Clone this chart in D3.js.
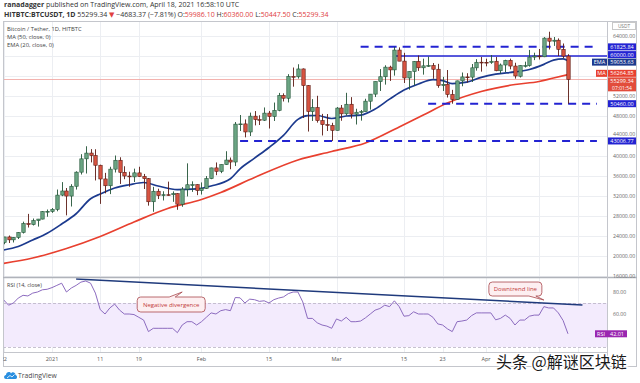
<!DOCTYPE html>
<html>
<head>
<meta charset="utf-8">
<script src="https://cdnjs.cloudflare.com/ajax/libs/d3/7.8.5/d3.min.js"></script>
<style>
  body { margin: 0; background: #fff; }
  svg { display: block; font-family: "Open Sans", "DejaVu Sans", sans-serif; }
</style>
</head>
<body>
<svg id="chart" width="640" height="383"></svg>
<script>
// BTC/USDT daily candles, HITBTC, 2020-12-22 .. 2021-04-18
const firstDay = '2020-12-22';
const lastDay = '2021-04-18';

const opens = [
  22719, 23810, 23232, 23729, 24712, 26493, 26281, 27079, 27385, 28875,
  28923, 29331, 32176, 33000, 31989, 33949, 36769, 39432, 40586, 40088, 38150, 35410, 34049, 37371, 39145, 36737,
  35994, 35824, 36622, 35901, 35468, 30851, 32950, 32078, 32259, 32251, 32465, 30362, 33368, 34246, 34262,
  33092, 33517, 35472, 37620, 36936, 38289, 39181, 38796, 46374, 46420, 44807, 47968, 47298, 47156, 48580,
  47911, 49134, 52118, 51552, 55906, 55841, 57412, 54087, 48891, 49676, 47073, 46277, 46104,
  45134, 49595, 48436, 50349, 48374, 48746, 48882, 50959, 52376, 54874, 55851, 57773, 57221, 61188, 58976,
  55605, 56900, 58913, 57641, 58030, 58100, 57351, 54083, 54342, 52303, 51293, 55025, 55817, 55777, 57635, 58760,
  58740, 58720, 58950, 57052, 58202, 59130, 57990, 55953, 58092, 58092, 59778, 59992, 59842, 63575, 62959,
  63158, 61334, 59986.10
];
const highs = [
  23837, 24100, 23794, 24789, 26867, 28422, 27500, 27410, 28996, 29300,
  29600, 33300, 34778, 33600, 34360, 36939, 40365, 41950, 41380, 41350, 38264, 36628, 37850, 40100, 39747, 37950,
  36852, 37469, 37850, 36415, 35600, 33826, 33456, 32944, 34875, 32921, 32557, 33783, 38531, 34933, 34342,
  34717, 35984, 37662, 38708, 38310, 40955, 39700, 46794, 48200, 47310, 48678, 48985, 48150, 49707, 49010,
  50689, 52618, 52530, 56368, 57700, 58352, 57508, 54183, 51374, 52041, 48424, 48395, 46640,
  49790, 50200, 52640, 51773, 49448, 49200, 51450, 52402, 54895, 57387, 58150, 58058, 61825.84, 61724, 60633,
  56938, 58981, 60100, 59468, 59880, 58589, 58430, 55830, 57200, 53230, 55073, 56700, 56559, 58400, 59368, 59800,
  59462, 60200, 59791, 58493, 59251, 59475, 58650, 58153, 58869, 61218, 60658, 61400, 63774, 64854, 63800,
  63520, 62506, 60360
];
const lows = [
  22353, 22600, 22703, 23400, 24500, 25700, 26101, 25880, 27320, 27850,
  28624, 28946, 31962, 28130, 29900, 33288, 36300, 36500, 38720, 35111, 30420, 32531, 32380, 36701, 34408, 35357,
  33850, 34800, 35844, 33400, 30071, 28850, 31390, 31106, 32053, 30837, 29241, 29842, 31915, 32825, 32171,
  32296, 33418, 35362, 36161, 36570, 38215, 37351, 37988, 45000, 43727, 43994, 46125, 46202, 47014, 45500,
  47003, 48948, 50901, 50710, 53863, 55477, 47600, 44892, 47003, 46674, 44106, 45000, 43006.77,
  45115, 47047, 48100, 47500, 46300, 47070, 48882, 49274, 51789, 53005, 54272, 55013, 56078, 58966, 54600,
  53271, 54123, 57023, 56270, 57820, 55450, 53650, 53000, 51700, 50460, 51225, 53950, 54691, 54800, 57071, 56873,
  57935, 58426, 56957, 56500, 56800, 57333, 55473, 55700, 57695, 57870, 59177, 59300, 59770, 61301, 62020,
  60000, 59580, 50447.50
];
const closes = [
  23810, 23232, 23729, 24712, 26493, 26281, 27079, 27385, 28875, 28923,
  29331, 32178, 33000, 31988, 33949, 36769, 39432, 40582, 40088, 38150, 35404, 34051, 37371, 39144, 36742, 35994,
  35828, 36631, 35891, 35468, 30850, 32945, 32078, 32259, 32254, 32467, 30366, 33364, 34252, 34262, 33092,
  33526, 35466, 37618, 36936, 38290, 39186, 38795, 46374, 46420, 44807, 47969, 47287, 47153, 48577, 47911,
  49133, 52119, 51553, 55906, 55841, 57408, 54087, 48891, 49676, 47073, 46276, 46106, 45135,
  49587, 48440, 50349, 48374, 48751, 48882, 50971, 52376, 54884, 55851, 57773, 57221, 61188, 58968, 55605,
  56900, 58912, 57648, 58030, 58102, 57351, 54083, 54340, 52303, 51293, 55025, 55817, 55777, 57635, 58746, 58740,
  58720, 58950, 57051, 58202, 59130, 57991, 56000, 58087, 58092, 59778, 59992, 59840, 63575, 62959, 63159,
  61334, 59986, 55299.34
];
// RSI (14, close), one value per candle
const rsiValues = [
  72.7, 68, 70, 74.5, 77, 76.4, 79, 80, 82, 82.5,
  84, 86, 88, 80, 83.6, 86, 89, 90, 88, 79, 64, 60, 65.5, 69, 63.6, 60,
  60, 59.5, 57, 54.5, 44, 47, 47, 47, 47, 47, 43, 50, 53, 53, 50,
  53, 57, 61, 60, 63, 64, 63, 75, 74.7, 70, 73.5, 73, 71.5, 72, 70,
  73, 74.5, 75.5, 78.5, 80, 80, 71, 56, 56, 52, 50, 49, 47,
  55.5, 53.6, 57, 53, 53, 53.6, 56.5, 60, 63.5, 65, 68, 66.7, 72, 66.7, 58,
  58.5, 62, 60, 60, 60, 57, 51, 50, 46.5, 44, 53, 53.6, 54.5, 58.5, 61, 61,
  61, 61, 54.7, 56, 59, 56, 50, 54.5, 54.5, 58, 59, 59, 66.7, 65.5, 65.5,
  61, 54, 42.01
];

// EMA (20) and MA (50)
const emaDates = ['2020-12-22', '2020-12-25', '2020-12-28', '2020-12-31', '2021-01-03', '2021-01-06', '2021-01-09',
  '2021-01-11', '2021-01-14', '2021-01-17', '2021-01-20', '2021-01-23', '2021-01-27', '2021-01-31', '2021-02-03',
  '2021-02-07', '2021-02-09', '2021-02-12', '2021-02-15', '2021-02-18', '2021-02-21', '2021-02-23', '2021-02-25',
  '2021-02-28', '2021-03-03', '2021-03-06', '2021-03-09', '2021-03-12', '2021-03-15', '2021-03-18', '2021-03-21',
  '2021-03-23', '2021-03-25', '2021-03-28', '2021-03-31', '2021-04-03', '2021-04-07', '2021-04-10', '2021-04-13',
  '2021-04-15', '2021-04-17', '2021-04-18'];
const emaValues = [21200, 21900, 23200, 24550, 26400, 28450, 31450,
  32400, 33600, 34250, 34700, 34000, 33270, 33420, 34000,
  35450, 37430, 39570, 41700, 44140, 47330, 48060, 48100,
  47500, 48000, 48190, 49400, 51370, 53190, 54390, 55270,
  55080, 54480, 54760, 55720, 56360, 56810, 57300, 58320,
  59180, 59440, 59053.63];
const maDates = ['2020-12-22', '2020-12-28', '2021-01-04', '2021-01-11', '2021-01-18', '2021-01-25', '2021-02-01',
  '2021-02-05', '2021-02-12', '2021-02-21', '2021-02-28', '2021-03-07', '2021-03-14', '2021-03-19', '2021-03-24',
  '2021-03-31', '2021-04-07', '2021-04-12', '2021-04-15', '2021-04-18'];
const maValues = [18540, 19600, 21500, 23900, 26800, 29500, 31300,
  32700, 35700, 39200, 40900, 42600, 45800, 48200, 50600,
  52900, 54300, 54900, 55600, 56264.85];

// drawn levels
const supportLevels = [61825.84, 50460, 43006.77];
const supportFrom = ['2021-03-06', '2021-03-20', '2021-02-09'];
const supportTo = ['2021-04-24', '2021-04-24', '2021-04-24'];
const resistanceLevel = 60000;
const resistanceFrom = '2021-03-13';
const resistanceTo = '2021-04-30';

// RSI downtrend line
const trendDates = ['2021-01-06', '2021-04-21'];
const trendRsi = [91.8, 68.2];

const priceTicks = [16000, 20000, 24000, 28000, 32000, 36000, 40000, 44000, 48000, 52000, 56000, 60000, 64000];
const rsiTicks = [80, 60];
// grid dates; the last two labels sit under the watermark and are not shown
const gridDates = ['2020-12-22', '2021-01-01', '2021-01-11', '2021-01-19', '2021-02-01', '2021-02-15',
  '2021-03-01', '2021-03-15', '2021-03-23', '2021-04-01', '2021-04-12', '2021-04-20'];
const dateTicks = ['2020-12-22', '2021-01-01', '2021-01-11', '2021-01-19', '2021-02-01', '2021-02-15',
  '2021-03-01', '2021-03-15', '2021-03-23', '2021-04-01'];
const dateLabels = ['22', '2021', '11', '19', 'Feb', '15', 'Mar', '15', '23', 'Apr'];

(function () {
  const svg = d3.select('#chart');
  const parse = s => new Date(s + 'T00:00:00Z');

  const plotLeft = 3, plotRight = 607;
  const priceTop = 21, priceBottom = 277;
  const rsiTop = 278, rsiBottom = 352;
  const chartBottom = 366;

  const upFill = '#6ba583', upBorder = '#225437';
  const downFill = '#d75442', downBorder = '#5b1a13';
  const emaColor = '#1c3a8e', maColor = '#e8402f';
  const levelBlue = '#2323d2';
  const rsiColor = '#8c6bbf';
  const gridColor = '#eceef2';

  const days = d3.utcDay.range(parse(firstDay), d3.utcDay.offset(parse(lastDay), 1));
  const candles = days.map((d, i) => ({
    date: d, open: opens[i], high: highs[i], low: lows[i], close: closes[i], rsi: rsiValues[i]
  }));

  const x = d3.scaleUtc()
    .domain([parse('2021-01-01'), parse('2021-04-01')])
    .range([52, 486]);
  const y = d3.scaleLinear().domain([16000, 64000]).range([276, 36]);
  const yr = d3.scaleLinear().domain([30, 70]).range([347, 303]);

  svg.append('rect').attr('width', 640).attr('height', 383).attr('fill', '#fff');

  const defs = svg.append('defs');
  defs.append('clipPath').attr('id', 'clipPrice')
    .append('rect').attr('x', plotLeft).attr('y', priceTop)
    .attr('width', plotRight - plotLeft).attr('height', priceBottom - priceTop);
  defs.append('clipPath').attr('id', 'clipRsi')
    .append('rect').attr('x', plotLeft).attr('y', rsiTop)
    .attr('width', plotRight - plotLeft).attr('height', rsiBottom - rsiTop);
  defs.append('clipPath').attr('id', 'clipAxis')
    .append('rect').attr('x', plotLeft).attr('y', rsiBottom)
    .attr('width', plotRight - plotLeft).attr('height', chartBottom - rsiBottom);

  /**
   * header
   */
  svg.append('text')
    .attr('x', 4).attr('y', 6.5)
    .style('font-size', '7px').style('fill', '#333')
    .call(t => {
      t.append('tspan').style('font-weight', 'bold').text('ranadagger');
      t.append('tspan').text(' published on TradingView.com, April 18, 2021 16:58:10 UTC');
    });

  const red = '#e0403f';
  const line2 = svg.append('text')
    .attr('x', 4).attr('y', 16.5)
    .style('font-size', '7px').style('fill', '#333');
  line2.append('tspan').style('font-weight', 'bold').text('HITBTC:BTCUSDT, 1D');
  line2.append('tspan').text(' 55299.34 ');
  line2.append('tspan').style('fill', red).text('▼');
  line2.append('tspan').text(' −4683.37 (−7.81%) O:');
  line2.append('tspan').style('fill', red).text('59986.10');
  line2.append('tspan').text(' H:');
  line2.append('tspan').style('fill', red).text('60360.00');
  line2.append('tspan').text(' L:');
  line2.append('tspan').style('fill', red).text('50447.50');
  line2.append('tspan').text(' C:');
  line2.append('tspan').style('fill', red).text('55299.34');

  /**
   * grid
   */
  const grid = svg.append('g');
  grid.selectAll('.vgrid')
    .data(gridDates)
    .enter().append('line')
    .attr('x1', d => Math.round(x(parse(d))) + 0.5)
    .attr('x2', d => Math.round(x(parse(d))) + 0.5)
    .attr('y1', priceTop).attr('y2', rsiBottom)
    .attr('stroke', gridColor);
  grid.selectAll('.hgrid')
    .data(priceTicks)
    .enter().append('line')
    .attr('x1', plotLeft).attr('x2', plotRight)
    .attr('y1', d => Math.round(y(d)) + 0.5)
    .attr('y2', d => Math.round(y(d)) + 0.5)
    .attr('stroke', gridColor);

  // RSI band 70 / 30
  const rsiG = svg.append('g').attr('clip-path', 'url(#clipRsi)');
  rsiG.append('rect')
    .attr('x', plotLeft).attr('width', plotRight - plotLeft)
    .attr('y', yr(70)).attr('height', yr(30) - yr(70))
    .attr('fill', '#f3ebfd');
  rsiG.selectAll('.band')
    .data([70, 30])
    .enter().append('line')
    .attr('x1', plotLeft).attr('x2', plotRight)
    .attr('y1', d => Math.round(yr(d)) + 0.5).attr('y2', d => Math.round(yr(d)) + 0.5)
    .attr('stroke', '#b9b2c4').attr('stroke-dasharray', '3,2').attr('stroke-width', 0.8);

  /**
   * price panel
   */
  const priceG = svg.append('g').attr('clip-path', 'url(#clipPrice)');

  // last price line
  priceG.append('line')
    .attr('x1', plotLeft).attr('x2', plotRight)
    .attr('y1', y(closes[closes.length - 1])).attr('y2', y(closes[closes.length - 1]))
    .attr('stroke', '#f0a09a').attr('stroke-width', 0.8);

  const lineGen = d3.line()
    .x(d => x(parse(d[0])))
    .y(d => y(d[1]))
    .curve(d3.curveMonotoneX);

  priceG.append('path')
    .datum(d3.zip(maDates, maValues))
    .attr('d', lineGen)
    .attr('fill', 'none').attr('stroke', maColor).attr('stroke-width', 1.7);
  priceG.append('path')
    .datum(d3.zip(emaDates, emaValues))
    .attr('d', lineGen)
    .attr('fill', 'none').attr('stroke', emaColor).attr('stroke-width', 1.7);

  // support / resistance lines
  priceG.selectAll('.support')
    .data(supportLevels)
    .enter().append('line')
    .attr('x1', (d, i) => x(parse(supportFrom[i])))
    .attr('x2', (d, i) => x(parse(supportTo[i])))
    .attr('y1', d => y(d)).attr('y2', d => y(d))
    .attr('stroke', levelBlue).attr('stroke-width', 2)
    .attr('stroke-dasharray', '8,6');
  priceG.append('line')
    .attr('x1', x(parse(resistanceFrom))).attr('x2', x(parse(resistanceTo)))
    .attr('y1', y(resistanceLevel)).attr('y2', y(resistanceLevel))
    .attr('stroke', levelBlue).attr('stroke-width', 1.5);

  // candles
  const candle = priceG.selectAll('.candle')
    .data(candles)
    .enter().append('g')
    .attr('class', 'candle');
  const cx = d => Math.round(x(d.date));
  candle.append('line')
    .attr('x1', d => cx(d) + 0.5).attr('x2', d => cx(d) + 0.5)
    .attr('y1', d => y(d.high)).attr('y2', d => y(d.low))
    .attr('stroke', d => d.close >= d.open ? upBorder : downBorder)
    .attr('stroke-width', 0.9);
  candle.append('rect')
    .attr('x', d => cx(d) - 1.2)
    .attr('width', 3.4)
    .attr('y', d => y(Math.max(d.open, d.close)))
    .attr('height', d => Math.max(0.8, Math.abs(y(d.open) - y(d.close))))
    .attr('fill', d => d.close >= d.open ? upFill : downFill)
    .attr('stroke', d => d.close >= d.open ? upBorder : downBorder)
    .attr('stroke-width', 0.6);

  // legend
  const legend = svg.append('g').style('font-size', '5.8px').style('fill', '#444');
  ['Bitcoin / Tether, 1D, HITBTC', 'MA (50, close, 0)', 'EMA (20, close, 0)'].forEach((s, i) => {
    legend.append('text').attr('x', 7).attr('y', 30.5 + i * 8).text(s);
  });

  /**
   * RSI panel
   */
  rsiG.append('path')
    .datum(candles)
    .attr('d', d3.line().x(d => x(d.date)).y(d => yr(d.rsi)))
    .attr('fill', 'none').attr('stroke', rsiColor).attr('stroke-width', 1);

  svg.append('g').attr('clip-path', 'url(#clipRsi)')
    .append('line')
    .attr('x1', x(parse(trendDates[0]))).attr('y1', yr(trendRsi[0]))
    .attr('x2', x(parse(trendDates[1]))).attr('y2', yr(trendRsi[1]))
    .attr('stroke', '#1f3a7c').attr('stroke-width', 1.5);

  svg.append('text')
    .attr('x', 7).attr('y', 287)
    .style('font-size', '5.5px').style('fill', '#444')
    .text('RSI (14, close)');

  // callouts
  function bubble(bx, by, bw, bh, r, side, b1, b2, tx, ty) {
    const p = d3.path();
    p.moveTo(bx + r, by);
    if (side === 'top') { p.lineTo(b1, by); p.lineTo(tx, ty); p.lineTo(b2, by); }
    p.lineTo(bx + bw - r, by);
    p.arcTo(bx + bw, by, bx + bw, by + r, r);
    p.lineTo(bx + bw, by + bh - r);
    p.arcTo(bx + bw, by + bh, bx + bw - r, by + bh, r);
    if (side === 'bottom') { p.lineTo(b2, by + bh); p.lineTo(tx, ty); p.lineTo(b1, by + bh); }
    p.lineTo(bx + r, by + bh);
    p.arcTo(bx, by + bh, bx, by + bh - r, r);
    p.lineTo(bx, by + r);
    p.arcTo(bx, by, bx + r, by, r);
    p.closePath();
    return p.toString();
  }
  const calloutText = ['Negative divergence', 'Downtrend line'];
  const calloutTip = [['2021-01-28', 80], ['2021-04-13', 72.7]];
  const callouts = calloutText.map((t, i) => {
    const tx = x(parse(calloutTip[i][0])), ty = yr(calloutTip[i][1]);
    return i === 0
      ? { t, tx, ty, bx: tx - 45, by: ty + 5, bw: 68, bh: 15, side: 'top', b1: tx - 13, b2: tx - 7 }
      : { t, tx, ty, bx: tx - 55, by: ty - 18, bw: 53, bh: 14, side: 'bottom', b1: tx - 15, b2: tx - 8 };
  });
  const cg = svg.selectAll('.callout').data(callouts).enter().append('g');
  cg.append('path')
    .attr('d', d => bubble(d.bx, d.by, d.bw, d.bh, 3.5, d.side, d.b1, d.b2, d.tx, d.ty))
    .attr('fill', '#fdeff1').attr('stroke', '#a8484c').attr('stroke-width', 0.8);
  cg.append('text')
    .attr('x', d => d.bx + d.bw / 2).attr('y', d => d.by + d.bh / 2 + 2)
    .attr('text-anchor', 'middle')
    .style('font-size', '6px').style('fill', '#c23b3b')
    .text(d => d.t);

  /**
   * frame and axes
   */
  const frame = svg.append('g').attr('fill', 'none').attr('stroke', '#c4c6cc');
  frame.append('rect').attr('x', 3.5).attr('y', priceTop + 0.5)
    .attr('width', 633).attr('height', chartBottom - priceTop);
  frame.append('line').attr('x1', plotLeft).attr('x2', 637).attr('y1', priceBottom + 0.5).attr('y2', priceBottom + 0.5)
    .attr('stroke', '#b0b3ba').attr('stroke-width', 1.5);
  frame.append('line').attr('x1', plotRight + 0.5).attr('x2', plotRight + 0.5).attr('y1', priceTop).attr('y2', chartBottom);
  frame.append('line').attr('x1', plotLeft).attr('x2', plotRight).attr('y1', rsiBottom + 0.5).attr('y2', rsiBottom + 0.5);

  // date labels
  svg.append('g').attr('clip-path', 'url(#clipAxis)')
    .selectAll('text')
    .data(dateTicks)
    .enter().append('text')
    .attr('x', d => x(parse(d)))
    .attr('y', 361)
    .attr('text-anchor', 'middle')
    .style('font-size', '5.5px').style('fill', '#555')
    .text((d, i) => dateLabels[i]);

  // USDT badge
  svg.append('rect').attr('x', 612.5).attr('y', 22.5).attr('width', 23).attr('height', 7)
    .attr('fill', '#fff').attr('stroke', '#c8c8c8');
  svg.append('text').attr('x', 624).attr('y', 28).attr('text-anchor', 'middle')
    .style('font-size', '4.8px').style('fill', '#777').text('USDT');

  // price scale boxes
  const fmt = d3.format('.2f');
  const boxes = [
    { v: supportLevels[0], fill: levelBlue },
    { v: resistanceLevel, fill: levelBlue },
    { v: emaValues[emaValues.length - 1], fill: emaColor, tag: 'EMA' },
    { v: maValues[maValues.length - 1], fill: maColor, tag: 'MA' },
    { v: closes[closes.length - 1], fill: '#e24c3b', sub: '07:01:54' },
    { v: supportLevels[1], fill: levelBlue },
    { v: supportLevels[2], fill: levelBlue }
  ].map(b => Object.assign(b, { cy: y(b.v), up: 3.5, down: b.sub ? 10.5 : 3.5 }));
  boxes.sort((a, b) => a.cy - b.cy);
  for (let k = 0; k < 10; k++) {
    for (let i = 1; i < boxes.length; i++) {
      const a = boxes[i - 1], b = boxes[i];
      const overlap = (a.cy + a.down + 0.5) - (b.cy - b.up);
      if (overlap > 0) { a.cy -= overlap / 2; b.cy += overlap / 2; }
    }
  }

  // gray ticks: hide those under a box, nudge those touching one
  const tickG = svg.append('g').style('font-size', '5.2px').style('fill', '#666');
  const tickY = t => {
    let base = y(t) + 1.5;
    boxes.forEach(b => {
      const top = b.cy - b.up;
      if (top > y(t) && top - y(t) < 6) base = Math.min(base, top - 1.8);
    });
    return base;
  };
  tickG.selectAll('text')
    .data(priceTicks.filter(t => !boxes.some(b => y(t) > b.cy - b.up - 1 && y(t) < b.cy + b.down + 1)))
    .enter().append('text')
    .attr('x', 613).attr('y', tickY)
    .text(d => fmt(d));
  tickG.selectAll('.rt')
    .data(rsiTicks)
    .enter().append('text')
    .attr('x', 613).attr('y', d => yr(d) + 2)
    .text(d => fmt(d));

  const boxG = svg.append('g').style('font-size', '5.5px');
  boxes.forEach(b => {
    boxG.append('rect').attr('x', 608).attr('y', b.cy - b.up)
      .attr('width', 28).attr('height', b.up + b.down).attr('fill', b.fill);
    boxG.append('text').attr('x', 622).attr('y', b.cy + 2).attr('text-anchor', 'middle')
      .style('fill', '#fff').text(fmt(b.v));
    if (b.sub) {
      boxG.append('text').attr('x', 622).attr('y', b.cy + 9.2).attr('text-anchor', 'middle')
        .style('fill', '#fff').style('font-size', '5px').text(b.sub);
    }
    if (b.tag) {
      const w = b.tag.length * 4 + 3;
      boxG.append('rect').attr('x', 607 - w).attr('y', b.cy - 3.5)
        .attr('width', w).attr('height', 7).attr('fill', b.fill);
      boxG.append('text').attr('x', 607 - w / 2).attr('y', b.cy + 2).attr('text-anchor', 'middle')
        .style('fill', '#fff').text(b.tag);
    }
  });

  // RSI value box
  const rsiLast = rsiValues[rsiValues.length - 1];
  boxG.append('rect').attr('x', 595).attr('y', yr(rsiLast) - 3.5).attr('width', 32).attr('height', 7)
    .attr('fill', '#9a27b0');
  boxG.append('text').attr('x', 597).attr('y', yr(rsiLast) + 2)
    .style('fill', '#fff').text('RSI');
  boxG.append('text').attr('x', 617).attr('y', yr(rsiLast) + 2).attr('text-anchor', 'middle')
    .style('fill', '#fff').text(fmt(rsiLast));

  /**
   * TradingView logo and watermark
   */
  const logo = svg.append('g').attr('transform', 'translate(4,370)');
  logo.append('path')
    .attr('d', 'M2,9 C-0.5,9 -0.5,5 2,5 C2,2 6,1 7,3.5 C8,1.5 11.5,2 11.5,5 C13.5,5 13.5,9 11.5,9 Z')
    .attr('fill', '#2a8fe0');
  logo.append('path').attr('d', 'M3,8 L6,5.5 L8,7 L10.5,4.5').attr('fill', 'none')
    .attr('stroke', '#fff').attr('stroke-width', 0.8);
  logo.append('text').attr('x', 14).attr('y', 8)
    .style('font-size', '6.8px').style('fill', '#4a4a4a').text('TradingView');

  svg.append('text')
    .attr('x', 496).attr('y', 368)
    .style('font-family', '"Noto Sans CJK SC", sans-serif')
    .style('font-size', '16px')
    .style('fill', '#1a1a1a')
    .style('stroke', '#fff').style('stroke-width', 2.5).style('paint-order', 'stroke')
    .text('头条 @解谜区块链');
})();
</script>
</body>
</html>
